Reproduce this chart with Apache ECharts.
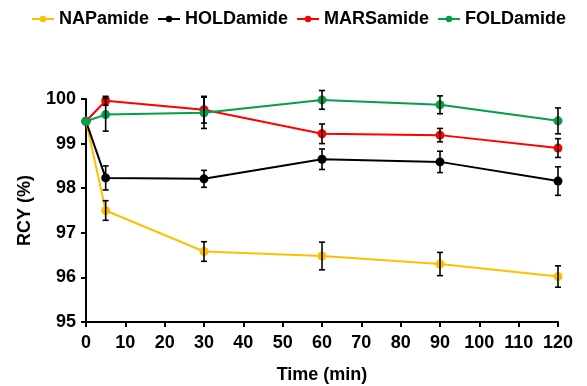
<!DOCTYPE html>
<html><head><meta charset="utf-8">
<script src="https://cdn.jsdelivr.net/npm/echarts@6/dist/echarts.min.js"></script>
<style>html,body{margin:0;padding:0;background:#fff}#c{width:587px;height:386px}</style>
</head><body><div id="c"></div>
<script>
const times = [0, 5, 30, 60, 90, 120];
const seriesNames = ['NAPamide', 'HOLDamide', 'MARSamide', 'FOLDamide'];
const napValues = [99.5, 97.5, 96.58, 96.48, 96.3, 96.02];
const napErrors = [0, 0.22, 0.22, 0.31, 0.26, 0.24];
const holdValues = [99.5, 98.23, 98.21, 98.65, 98.59, 98.16];
const holdErrors = [0, 0.27, 0.19, 0.23, 0.24, 0.32];
const marsValues = [99.5, 99.96, 99.76, 99.22, 99.19, 98.9];
const marsErrors = [0, 0.1, 0.3, 0.22, 0.15, 0.21];
const foldValues = [99.5, 99.65, 99.69, 99.98, 99.87, 99.51];
const foldErrors = [0, 0.37, 0.35, 0.21, 0.2, 0.29];
const xTicks = [0, 10, 20, 30, 40, 50, 60, 70, 80, 90, 100, 110, 120];
const yTicks = [95, 96, 97, 98, 99, 100];

const colors = ['#FFC000', '#000000', '#FF0000', '#00A04A'];
const allValues = [napValues, holdValues, marsValues, foldValues];
const allErrors = [napErrors, holdErrors, marsErrors, foldErrors];
const font = 'Liberation Sans, Arial, sans-serif';

const lineSeries = seriesNames.map((n, i) => ({
  name: n, type: 'line', color: colors[i],
  data: times.map((t, k) => [t, allValues[i][k]]),
  symbol: 'circle', symbolSize: 9,
  lineStyle: {width: 2, color: colors[i]},
  itemStyle: {color: colors[i]},
  z: 3 + i
}));

const errSeries = seriesNames.map((n, i) => ({
  type: 'custom', name: n + '_err', silent: true, z: 10,
  data: times.map((t, k) => [t, allValues[i][k] - allErrors[i][k], allValues[i][k] + allErrors[i][k]]).filter(d => d[2] - d[1] > 0),
  renderItem: function(params, api) {
    const lo = api.coord([api.value(0), api.value(1)]);
    const hi = api.coord([api.value(0), api.value(2)]);
    const w = 3;
    const st = {stroke: '#000', lineWidth: 1.6};
    return {type: 'group', children: [
      {type: 'line', shape: {x1: lo[0], y1: lo[1], x2: hi[0], y2: hi[1]}, style: st},
      {type: 'line', shape: {x1: lo[0]-w, y1: lo[1], x2: lo[0]+w, y2: lo[1]}, style: st},
      {type: 'line', shape: {x1: hi[0]-w, y1: hi[1], x2: hi[0]+w, y2: hi[1]}, style: st}
    ]};
  },
  encode: {x: 0, y: [1, 2]}
}));

const chart = echarts.init(document.getElementById('c'));
chart.setOption({
  animation: false,
  backgroundColor: '#fff',
  legend: {
    data: seriesNames, top: 5, left: 26, itemGap: 8, itemWidth: 22, itemHeight: 8,
    textStyle: {fontFamily: font, fontWeight: 'bold', fontSize: 18, color: '#000'}
  },
  grid: {left: 86, right: 29, top: 99, bottom: 64, containLabel: false, outerBoundsMode: 'none'},
  xAxis: {
    type: 'value', min: 0, max: 120, interval: 10,
    name: 'Time (min)', nameLocation: 'middle', nameGap: 44,
    nameTextStyle: {fontFamily: font, fontWeight: 'bold', fontSize: 18, color: '#000'},
    axisLine: {lineStyle: {color: '#000', width: 2}},
    axisTick: {show: true, length: 5, lineStyle: {color: '#000', width: 2}},
    axisLabel: {fontFamily: font, fontWeight: 'bold', fontSize: 18, color: '#000', margin: 12,
      formatter: v => xTicks.includes(v) ? String(v) : ''},
    splitLine: {show: false}
  },
  yAxis: {
    type: 'value', min: 95, max: 100, interval: 1,
    name: 'RCY (%)', nameLocation: 'middle', nameGap: 52, nameRotate: 90,
    nameTextStyle: {fontFamily: font, fontWeight: 'bold', fontSize: 18, color: '#000'},
    axisLine: {show: true, lineStyle: {color: '#000', width: 2}},
    axisTick: {show: true, length: 5, lineStyle: {color: '#000', width: 2}},
    axisLabel: {fontFamily: font, fontWeight: 'bold', fontSize: 18, color: '#000', margin: 10,
      formatter: v => yTicks.includes(v) ? String(v) : ''},
    splitLine: {show: false}
  },
  series: [...lineSeries, ...errSeries]
});
</script>
</body></html>
